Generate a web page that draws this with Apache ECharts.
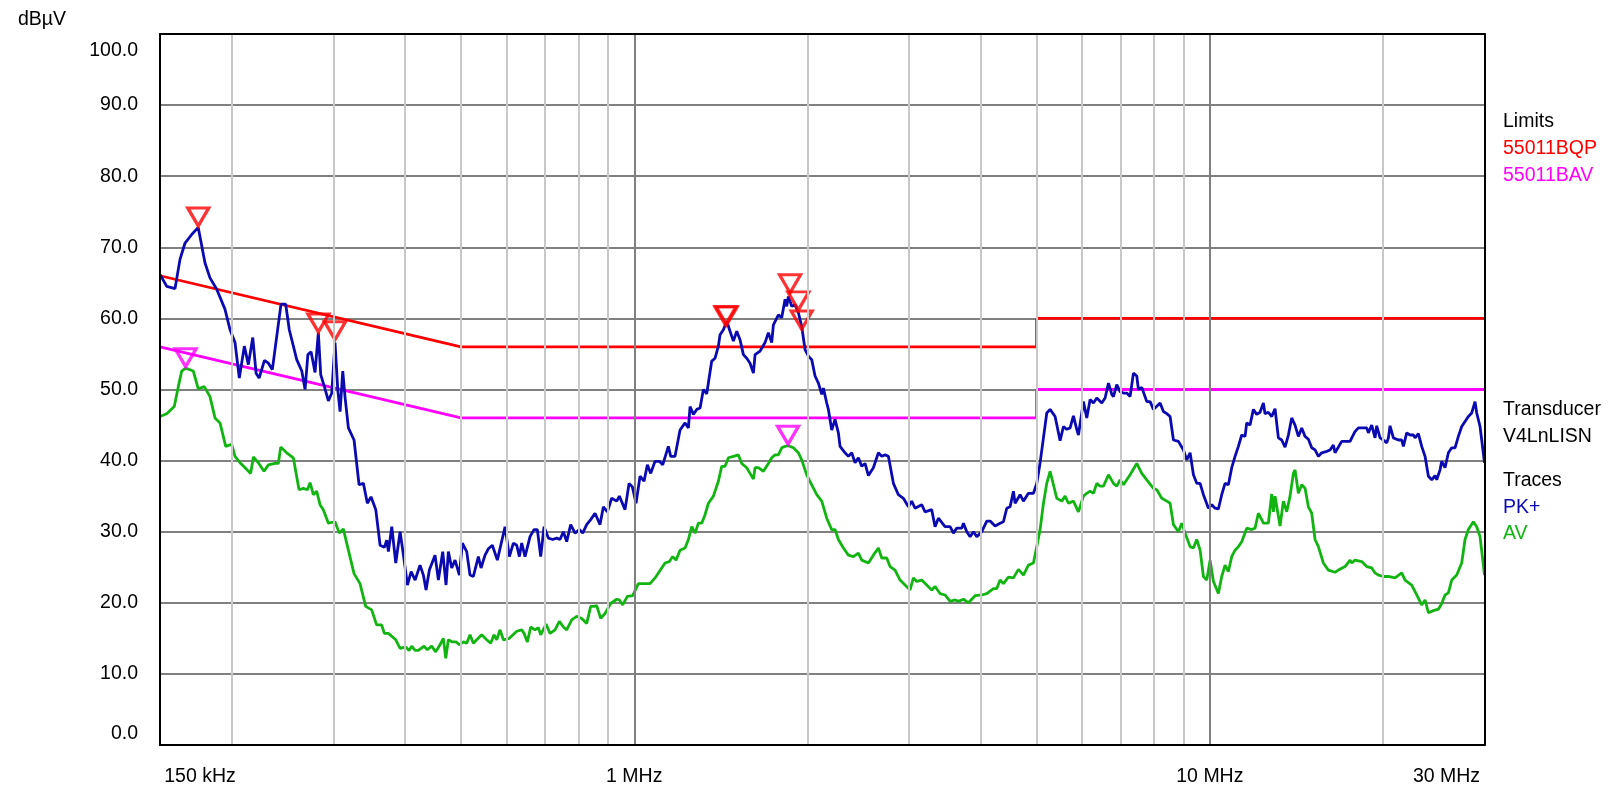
<!DOCTYPE html>
<html>
<head>
<meta charset="utf-8">
<title>Conducted emission scan</title>
<script src="https://cdn.jsdelivr.net/npm/echarts@6/dist/echarts.min.js"></script>
<style>
  html, body { margin: 0; padding: 0; background: #ffffff; }
  #chart { width: 1611px; height: 790px; }
</style>
</head>
<body>
<div id="chart"></div>
<script>
// Frequencies in MHz, levels in dBµV.

// PK+ trace
const pkFreq = [
  0.150,0.1541,0.1593,0.1625,0.1658,0.1703,0.1748,0.1796,0.1832,0.1882,
  0.1945,0.1985,0.2025,0.2060,0.2102,0.2136,0.2174,0.2203,0.2230,0.2278,
  0.2314,0.2351,0.2434,0.2480,0.2516,0.2592,0.2645,0.2680,0.2710,0.2745,
  0.2789,0.2826,0.2853,0.2895,0.2942,0.2982,0.3021,0.3054,0.3083,0.3116,
  0.3145,0.3187,0.3260,0.3326,0.3384,0.3438,0.3489,0.3556,0.3618,0.3680,
  0.3715,0.3740,0.3791,0.3852,0.3919,0.3972,0.4036,0.4096,0.4162,
  0.4245,0.4302,0.4348,0.4406,0.4507,0.4568,0.4648,0.4710,0.4754,0.4818,
  0.4883,0.4968,0.5028,0.5116,0.5184,0.5254,0.5360,0.5418,0.5505,0.5579,
  0.5669,0.5783,0.5964,0.6068,0.6166,0.6249,0.6316,0.6375,0.6460,0.6591,
  0.6697,0.6787,0.6878,0.6971,0.7092,0.7216,0.7333,0.7431,0.7531,0.7632,
  0.7755,0.7891,0.8029,0.8137,0.8268,0.8401,0.8548,0.8721,0.8838,0.8980,
  0.9137,0.9322,0.9422,0.9638,0.9794,0.9925,1.0072,1.0234,1.0399,1.0539,
  1.0680,1.0867,1.1057,1.1206,1.1462,1.1570,1.1772,1.2010,
  1.2254,1.2419,1.2501,1.2669,1.2839,1.3012,1.3186,1.3363,1.3633,1.3816,
  1.4001,1.4095,1.4284,1.4476,1.4670,1.4867,1.5067,1.5269,1.5474,1.5682,
  1.5892,1.6106,1.6214,1.6541,1.6875,1.7102,1.7331,1.7447,1.7800,1.8038,
  1.8281,1.8403,1.8526,1.8775,1.9026,1.9282,1.9540,1.9803,2.0069,2.0338,
  2.0611,2.0889,2.1169,2.1310,2.1597,2.1741,2.2033,2.2328,2.2628,2.2779,
  2.3239,2.3551,2.3867,2.4188,2.4513,2.4842,2.5175,2.5513,2.6028,2.6554,
  2.6911,2.7273,2.7638,2.8197,2.8766,2.9347,2.9940,3.0342,3.0749,3.1580,
  3.2004,3.2869,3.3310,3.3757,3.4669,
  3.5378,3.5853,3.6334,3.7068,3.7316,3.7817,3.8324,3.8839,3.9360,4.0155,
  4.0966,4.1516,4.2355,4.3210,4.3789,4.4377,4.4973,4.5576,4.5881,4.6810,
  4.7438,4.8396,4.9374,5.0037,5.0709,5.1389,5.2078,5.2777,5.3844,5.4930,
  5.5668,5.6415,5.7172,5.7940,5.8717,5.9110,5.9903,6.0307,6.1117,6.1937,
  6.2767,6.3610,6.4894,6.5765,6.6649,6.7544,6.7995,6.8907,6.9832,7.0769,
  7.1719,7.2682,7.3657,7.4646,7.5145,7.6153,7.7691,7.8737,7.9794,8.1950,
  8.3050,8.4165,8.5294,8.6440,8.8185,8.9966,9.1173,9.2398,9.3638,9.4895,
  9.6168,9.7459,9.9427,10.076,
  10.210,10.347,10.486,10.627,10.769,10.914,11.060,11.209,11.359,11.512,
  11.589,11.744,11.902,12.061,12.223,12.387,12.470,12.637,12.807,12.979,
  13.153,13.330,13.509,13.691,13.874,14.060,14.249,14.440,14.634,14.831,
  15.029,15.231,15.436,15.643,15.959,16.173,16.390,16.500,16.946,17.173,
  17.521,17.875,18.114,18.358,18.728,18.854,19.107,19.363,19.493,19.754,
  20.019,20.288,20.424,20.560,20.836,21.257,21.543,21.687,21.978,22.273,
  22.572,22.723,23.028,23.337,23.651,23.968,24.290,24.616,24.780,25.113,
  25.281,25.620,25.964,26.312,26.666,27.024,27.386,28.126,28.504,28.886,
  29.080,29.470,30.0
];
const pkLevel = [
  66.2,64.5,64.2,68.3,70.6,71.8,72.8,67.8,65.7,64.1,
  61.3,58.4,56.6,51.6,56.1,53.5,57.3,52.3,51.6,54.1,
  53.7,52.8,62.0,62.0,58.4,54.2,52.6,50.0,54.9,55.3,
  52.4,58.0,52.1,50.4,48.4,49.5,56.6,50.0,46.9,52.6,
  48.9,44.6,42.9,36.6,36.8,34.0,34.9,33.1,28.1,27.8,
  28.8,27.2,30.7,25.6,30.0,26.7,22.5,24.4,23.2,
  25.3,23.9,21.8,24.6,26.7,23.2,27.2,22.5,27.2,24.9,
  26.0,23.9,28.4,27.2,23.9,23.7,26.5,24.9,26.7,27.6,
  28.1,26.0,30.7,26.5,28.4,28.1,26.5,28.4,26.5,29.3,
  30.3,30.3,26.5,30.7,29.1,28.9,29.1,28.9,30.0,28.6,
  31.0,29.8,30.3,29.8,31.0,31.7,32.6,31.0,33.5,32.8,
  34.7,34.3,35.0,33.1,36.8,36.3,34.0,37.8,37.1,39.4,
  38.2,39.9,39.9,39.4,42.0,40.6,40.6,44.3,
  45.3,44.6,47.6,46.5,47.2,47.4,50.0,49.4,54.0,54.4,
  56.1,57.7,58.4,59.6,58.2,56.8,58.2,57.0,54.9,54.4,
  53.7,52.3,54.9,55.4,56.6,58.0,56.6,59.1,60.5,60.1,
  62.7,61.7,63.1,61.7,61.9,60.8,58.9,55.6,54.7,54.2,
  51.9,50.9,49.3,50.2,48.1,47.2,44.3,45.8,43.9,42.0,
  41.1,40.6,41.1,39.7,40.4,39.2,39.6,37.9,39.0,41.1,
  40.6,40.8,40.6,36.8,35.2,34.7,33.5,34.3,33.3,33.8,
  32.8,33.1,30.7,31.9,30.7,
  30.7,29.8,30.5,30.5,31.2,30.0,29.3,30.0,29.3,30.0,
  31.5,31.5,30.8,31.2,31.4,33.3,33.5,35.7,34.0,35.2,
  34.3,35.4,35.4,36.8,39.7,43.2,46.7,47.2,46.2,42.8,
  44.8,44.4,44.6,46.3,44.4,43.6,46.7,48.3,46.0,48.6,
  48.1,48.8,48.1,48.8,50.9,49.3,49.0,50.7,49.7,49.5,
  49.5,49.0,52.3,51.9,50.0,50.3,48.3,48.3,47.2,48.1,
  46.9,46.6,46.2,42.9,42.7,41.5,40.1,41.1,38.0,36.8,
  36.8,35.2,33.3,33.8,
  33.3,33.2,35.2,36.8,36.6,39.0,40.6,42.0,43.6,43.4,
  45.3,45.0,47.2,46.5,46.8,48.1,46.6,46.8,46.2,47.3,
  43.2,42.9,41.9,43.6,46.0,45.0,43.4,44.6,43.4,43.0,
  41.8,41.5,40.6,41.1,41.3,41.5,42.2,41.1,42.7,42.7,
  42.7,44.1,44.6,44.6,44.6,43.9,45.0,43.2,44.9,43.2,
  42.9,42.5,43.2,44.9,43.2,42.9,42.9,42.0,43.9,43.6,
  43.6,43.2,43.8,42.0,40.6,37.8,37.3,37.9,37.3,38.7,
  39.9,39.0,41.1,41.8,41.8,43.4,44.8,46.2,46.7,48.3,
  46.7,44.8,39.7
];

// AV trace
const avFreq = [
  0.150,0.1541,0.1588,0.1614,0.1636,0.1662,0.1714,0.1748,0.1791,0.1832,
  0.1869,0.1907,0.1951,0.1998,0.2025,0.2066,0.2108,0.2156,0.2179,0.2223,
  0.2274,0.2314,0.2376,0.2408,0.2431,0.2490,0.2557,0.2616,0.2662,0.2705,
  0.2734,0.2770,0.2807,0.2845,0.2883,0.2942,0.3021,0.3073,0.3123,0.3187,
  0.3260,0.3339,0.3415,0.3498,0.3568,0.3640,0.3680,0.3740,0.3852,0.3919,
  0.4008,0.4062,0.4105,0.4162,0.4216,
  0.4245,0.4313,0.4371,0.4447,0.4519,0.4598,0.4660,0.4704,0.4754,0.4831,
  0.4902,0.4968,0.5048,0.5116,0.5184,0.5254,0.5325,0.5432,0.5542,0.5631,
  0.5707,0.5768,0.5846,0.5924,0.6068,0.6249,0.6375,0.6435,0.6521,0.6609,
  0.6724,0.6814,0.6878,0.7027,0.7140,0.7284,0.7411,0.7531,0.7632,0.7786,
  0.7944,0.8104,0.8268,0.8401,0.8514,0.8605,0.8744,0.8897,0.9101,0.9322,
  0.9422,0.9548,0.9728,0.9938,1.0166,1.0344,1.0652,1.0867,1.1057,1.1311,
  1.1508,1.1663,1.1819,1.2010,
  1.2254,1.2419,1.2585,1.2754,1.2925,1.3099,1.3274,1.3453,1.3724,1.4001,
  1.4189,1.4380,1.4573,1.4867,1.5167,1.5371,1.5682,1.5892,1.6106,1.6214,
  1.6431,1.6763,1.7102,1.7331,1.7564,1.7800,1.8038,1.8281,1.8526,1.8900,
  1.9282,1.9540,1.9935,2.0338,2.0749,2.1169,2.1597,2.2033,2.2328,2.2628,
  2.3085,2.3551,2.4027,2.4513,2.4842,2.5513,2.6028,2.6554,2.6911,2.7455,
  2.7823,2.8386,2.8959,2.9543,3.0141,3.0545,3.0955,3.1580,3.2218,3.2869,
  3.3310,3.3983,3.4669,
  3.5378,3.6093,3.6577,3.7316,3.8070,3.9099,4.0155,4.0966,4.2073,4.2638,
  4.3210,4.3789,4.4674,4.5576,4.6499,4.7438,4.8396,4.9374,5.0037,5.0709,
  5.1389,5.2078,5.2777,5.3485,5.4204,5.5298,5.6040,5.6792,5.7940,5.9110,
  6.0307,6.1117,6.1937,6.2767,6.3610,6.4464,6.5328,6.6649,6.7995,6.8907,
  6.9832,7.0769,7.2682,7.4646,7.6153,7.7691,7.9794,8.0865,8.2498,8.4165,
  8.5294,8.6440,8.8185,8.9369,9.0570,9.2398,9.3638,9.4895,9.6168,9.7459,
  9.8767,10.009,10.144,
  10.347,10.486,10.627,10.769,10.914,11.060,11.209,11.359,11.589,11.822,
  11.981,12.142,12.387,12.637,12.807,12.893,12.979,13.241,13.419,13.600,
  13.782,13.967,14.060,14.249,14.440,14.634,14.831,15.029,15.231,15.436,
  15.747,16.065,16.500,16.721,17.173,17.521,17.638,17.875,18.358,18.728,
  19.107,19.363,19.623,20.019,20.424,20.976,21.543,21.832,22.422,22.875,
  23.337,23.651,23.968,24.452,24.946,25.281,25.620,25.964,26.312,26.844,
  27.386,27.753,28.126,28.694,29.080,29.470,30.0
];
const avLevel = [
  46.2,46.6,47.6,50.4,52.6,53.0,52.6,50.1,50.4,49.0,
  46.0,45.3,42.0,42.3,40.6,39.7,39.0,38.2,40.5,39.7,
  38.5,39.4,39.6,39.6,41.9,41.1,40.4,35.9,36.1,35.9,
  36.9,35.2,35.7,33.8,33.1,31.2,31.4,29.8,30.4,27.4,
  24.1,22.7,19.5,19.0,16.9,16.9,15.7,15.7,14.8,13.6,
  13.8,13.3,13.9,13.3,13.3,
  13.1,13.9,13.4,13.9,13.1,14.1,15.0,12.2,14.8,14.5,
  14.5,14.1,14.5,14.3,15.5,14.3,14.8,15.5,14.8,14.3,
  15.5,14.8,16.2,14.8,15.0,16.0,16.2,15.7,14.5,16.6,
  16.2,16.5,15.5,17.0,15.7,16.2,17.4,16.6,16.2,17.6,
  18.1,17.8,17.1,19.5,19.5,19.6,17.8,18.5,19.9,20.5,
  20.4,19.7,20.9,21.0,22.7,22.7,22.7,23.5,24.4,25.6,
  25.8,26.5,26.0,27.4,
  27.7,28.9,30.7,29.8,31.2,31.2,32.4,34.0,35.0,37.1,
  39.2,39.2,40.4,40.6,40.8,39.6,39.0,38.2,37.4,39.0,
  39.0,38.5,39.6,40.4,40.8,40.8,41.8,42.0,42.1,41.8,
  41.1,40.1,38.0,36.6,35.2,34.3,31.9,30.3,30.3,28.9,
  27.7,26.7,26.5,27.0,26.0,25.6,26.7,27.7,26.3,26.3,
  25.1,24.6,23.2,22.5,21.8,23.5,23.0,23.2,22.5,21.8,
  22.3,21.3,21.1,
  20.2,20.4,20.2,20.5,20.0,21.0,21.1,21.3,22.0,22.0,
  23.2,22.7,23.6,23.5,24.7,23.9,25.3,25.6,27.9,30.3,
  34.0,36.8,38.5,36.6,34.7,34.3,35.0,34.0,34.3,32.8,
  35.0,35.4,35.7,35.4,36.8,36.4,36.4,38.0,36.8,36.4,
  37.3,36.6,38.0,39.6,38.2,37.3,36.1,35.9,34.7,34.3,
  34.0,31.0,30.0,31.2,29.8,27.9,27.7,28.9,27.4,23.7,
  23.2,26.0,23.0,
  21.3,23.7,25.3,24.4,26.5,27.4,27.9,28.6,30.5,30.3,
  30.5,32.6,31.2,31.2,35.3,32.8,35.0,30.8,34.3,32.8,
  35.0,38.2,38.7,35.4,36.6,36.1,33.5,32.6,28.9,27.9,
  25.6,24.6,24.3,24.6,25.1,26.0,25.6,26.0,25.8,25.1,
  24.9,24.2,23.9,23.7,23.7,23.5,24.2,23.2,22.5,21.1,
  19.7,20.4,18.6,18.9,19.1,19.9,21.1,21.4,23.2,23.9,
  25.6,28.9,30.3,31.4,30.7,29.3,23.9
];

// EN 55011 class B limit lines
const limitFreq = [0.15, 0.5, 5, 5, 30];
const qpLimitLevel = [66, 56, 56, 60, 60];
const avLimitLevel = [56, 46, 46, 50, 50];

// Peak markers
const qpMarkFreq = [0.1748, 0.2826, 0.3021, 1.440, 1.4476, 1.865, 1.928, 1.954];
const qpMarkLevel = [73.0, 58.1, 57.0, 59.1, 59.1, 63.6, 61.2, 58.5];
const avMarkFreq = [0.1662, 1.850];
const avMarkLevel = [53.2, 42.3];

// Frequency grid
const gridMinorFreq = [0.2, 0.3, 0.4, 0.5, 0.6, 0.7, 0.8, 0.9, 2, 3, 4, 5, 6, 7, 8, 9, 20];
const gridDecadeFreq = [1, 10];

const FONT = '"Liberation Sans", Arial, Helvetica, sans-serif';
const FS = 19.5;
const C_PK = '#0A0AB0';
const C_AV = '#12B412';
const C_QP_LIM = '#FF0000';
const C_AV_LIM = '#FF00FF';
const TRACE_W = 2.8;

const pairs = (xs, ys) => xs.map((x, i) => [x, ys[i]]);
const TRI = 'path://M0,0 L20,0 L10,17 Z';

const chart = echarts.init(document.getElementById('chart'), null, { renderer: 'canvas' });

const sideText = (text, y, color) => ({
  type: 'text', x: 1503, y: y, silent: true, z: 20,
  style: { text: text, fill: color, fontSize: FS, fontFamily: FONT, verticalAlign: 'middle', align: 'left' }
});

const borderAxis = { show: true, onZero: false, lineStyle: { color: '#000', width: 2 } };

chart.setOption({
  animation: false,
  backgroundColor: '#ffffff',
  textStyle: { fontFamily: FONT },
  grid: { left: 160, top: 34, width: 1324.5, height: 711, containLabel: false },
  xAxis: [
    {
      type: 'log', logBase: 10, min: 0.15, max: 30, position: 'bottom', z: 10,
      axisLine: borderAxis, axisTick: { show: false }, splitLine: { show: false },
      axisLabel: {
        margin: 22, color: '#000', fontSize: FS, fontFamily: FONT,
        showMinLabel: true, showMaxLabel: true,
        formatter: function (v) {
          if (v < 0.999) return '{first|' + Math.round(v * 1000) + ' kHz}';
          if (v > 29.9) return '{last|' + Math.round(v) + ' MHz}';
          return Math.round(v) + ' MHz';
        },
        rich: {
          first: { fontSize: FS, fontFamily: FONT, color: '#000', padding: [0, 0, 0, 80] },
          last: { fontSize: FS, fontFamily: FONT, color: '#000', padding: [0, 76, 0, 0] }
        }
      }
    },
    {
      type: 'log', logBase: 10, min: 0.15, max: 30, position: 'top', z: 10,
      axisLine: borderAxis, axisTick: { show: false }, axisLabel: { show: false }, splitLine: { show: false }
    }
  ],
  yAxis: [
    {
      type: 'value', min: 0, max: 100, interval: 10, position: 'left',
      axisLine: { show: false }, axisTick: { show: false },
      splitLine: { show: true, lineStyle: { color: '#808080', width: 2 } },
      axisLabel: {
        margin: 22, color: '#000', fontSize: FS, fontFamily: FONT,
        formatter: function (v) {
          if (v === 100) return '{top|100.0}';
          if (v === 0) return '{bot|0.0}';
          return v.toFixed(1);
        },
        rich: {
          top: { fontSize: FS, fontFamily: FONT, color: '#000', padding: [34, 0, 0, 0] },
          bot: { fontSize: FS, fontFamily: FONT, color: '#000', padding: [0, 0, 22, 0] }
        }
      }
    },
    {
      type: 'value', min: 0, max: 100, position: 'left', z: 10,
      axisLine: borderAxis, axisTick: { show: false }, axisLabel: { show: false }, splitLine: { show: false }
    },
    {
      type: 'value', min: 0, max: 100, position: 'right', z: 10,
      axisLine: borderAxis, axisTick: { show: false }, axisLabel: { show: false }, splitLine: { show: false }
    }
  ],
  graphic: [
    { type: 'text', x: 18, y: 20, silent: true, z: 20,
      style: { text: 'dBµV', fill: '#000', fontSize: FS, fontFamily: FONT, verticalAlign: 'middle', align: 'left' } },
    sideText('Limits', 122, '#000'),
    sideText('55011BQP', 148.5, C_QP_LIM),
    sideText('55011BAV', 175.5, C_AV_LIM),
    sideText('Transducer', 409.5, '#000'),
    sideText('V4LnLISN', 436.5, '#000'),
    sideText('Traces', 481, '#000'),
    sideText('PK+', 508, C_PK),
    sideText('AV', 534, C_AV)
  ],
  series: [
    {
      name: 'frequency grid', type: 'line', data: [], z: 1, silent: true,
      markLine: {
        silent: true, animation: false, symbol: ['none', 'none'],
        label: { show: false }, emphasis: { disabled: true },
        lineStyle: { color: '#C8C8C8', width: 2, type: 'solid' },
        data: gridMinorFreq.map(f => ({ xAxis: f }))
          .concat(gridDecadeFreq.map(f => ({ xAxis: f, lineStyle: { color: '#808080', width: 2, type: 'solid' } })))
      }
    },
    {
      name: '55011BQP', type: 'line', data: pairs(limitFreq, qpLimitLevel), z: 2,
      symbol: 'none', silent: true, lineStyle: { color: C_QP_LIM, width: TRACE_W }
    },
    {
      name: '55011BAV', type: 'line', data: pairs(limitFreq, avLimitLevel), z: 2,
      symbol: 'none', silent: true, lineStyle: { color: C_AV_LIM, width: TRACE_W }
    },
    {
      name: 'AV', type: 'line', data: pairs(avFreq, avLevel), z: 3,
      symbol: 'none', silent: true, lineStyle: { color: C_AV, width: TRACE_W }
    },
    {
      name: 'PK+', type: 'line', data: pairs(pkFreq, pkLevel), z: 3,
      symbol: 'none', silent: true, lineStyle: { color: C_PK, width: TRACE_W }
    },
    {
      name: 'QP markers', type: 'scatter', data: pairs(qpMarkFreq, qpMarkLevel), z: 4, silent: true,
      symbol: TRI, symbolSize: [21, 18], symbolOffset: [0, -9],
      itemStyle: { color: 'rgba(0,0,0,0)', borderColor: C_QP_LIM, borderWidth: 3.2 }
    },
    {
      name: 'AV markers', type: 'scatter', data: pairs(avMarkFreq, avMarkLevel), z: 4, silent: true,
      symbol: TRI, symbolSize: [21, 18], symbolOffset: [0, -9],
      itemStyle: { color: 'rgba(0,0,0,0)', borderColor: C_AV_LIM, borderWidth: 3.2 }
    }
  ]
});
</script>
</body>
</html>
